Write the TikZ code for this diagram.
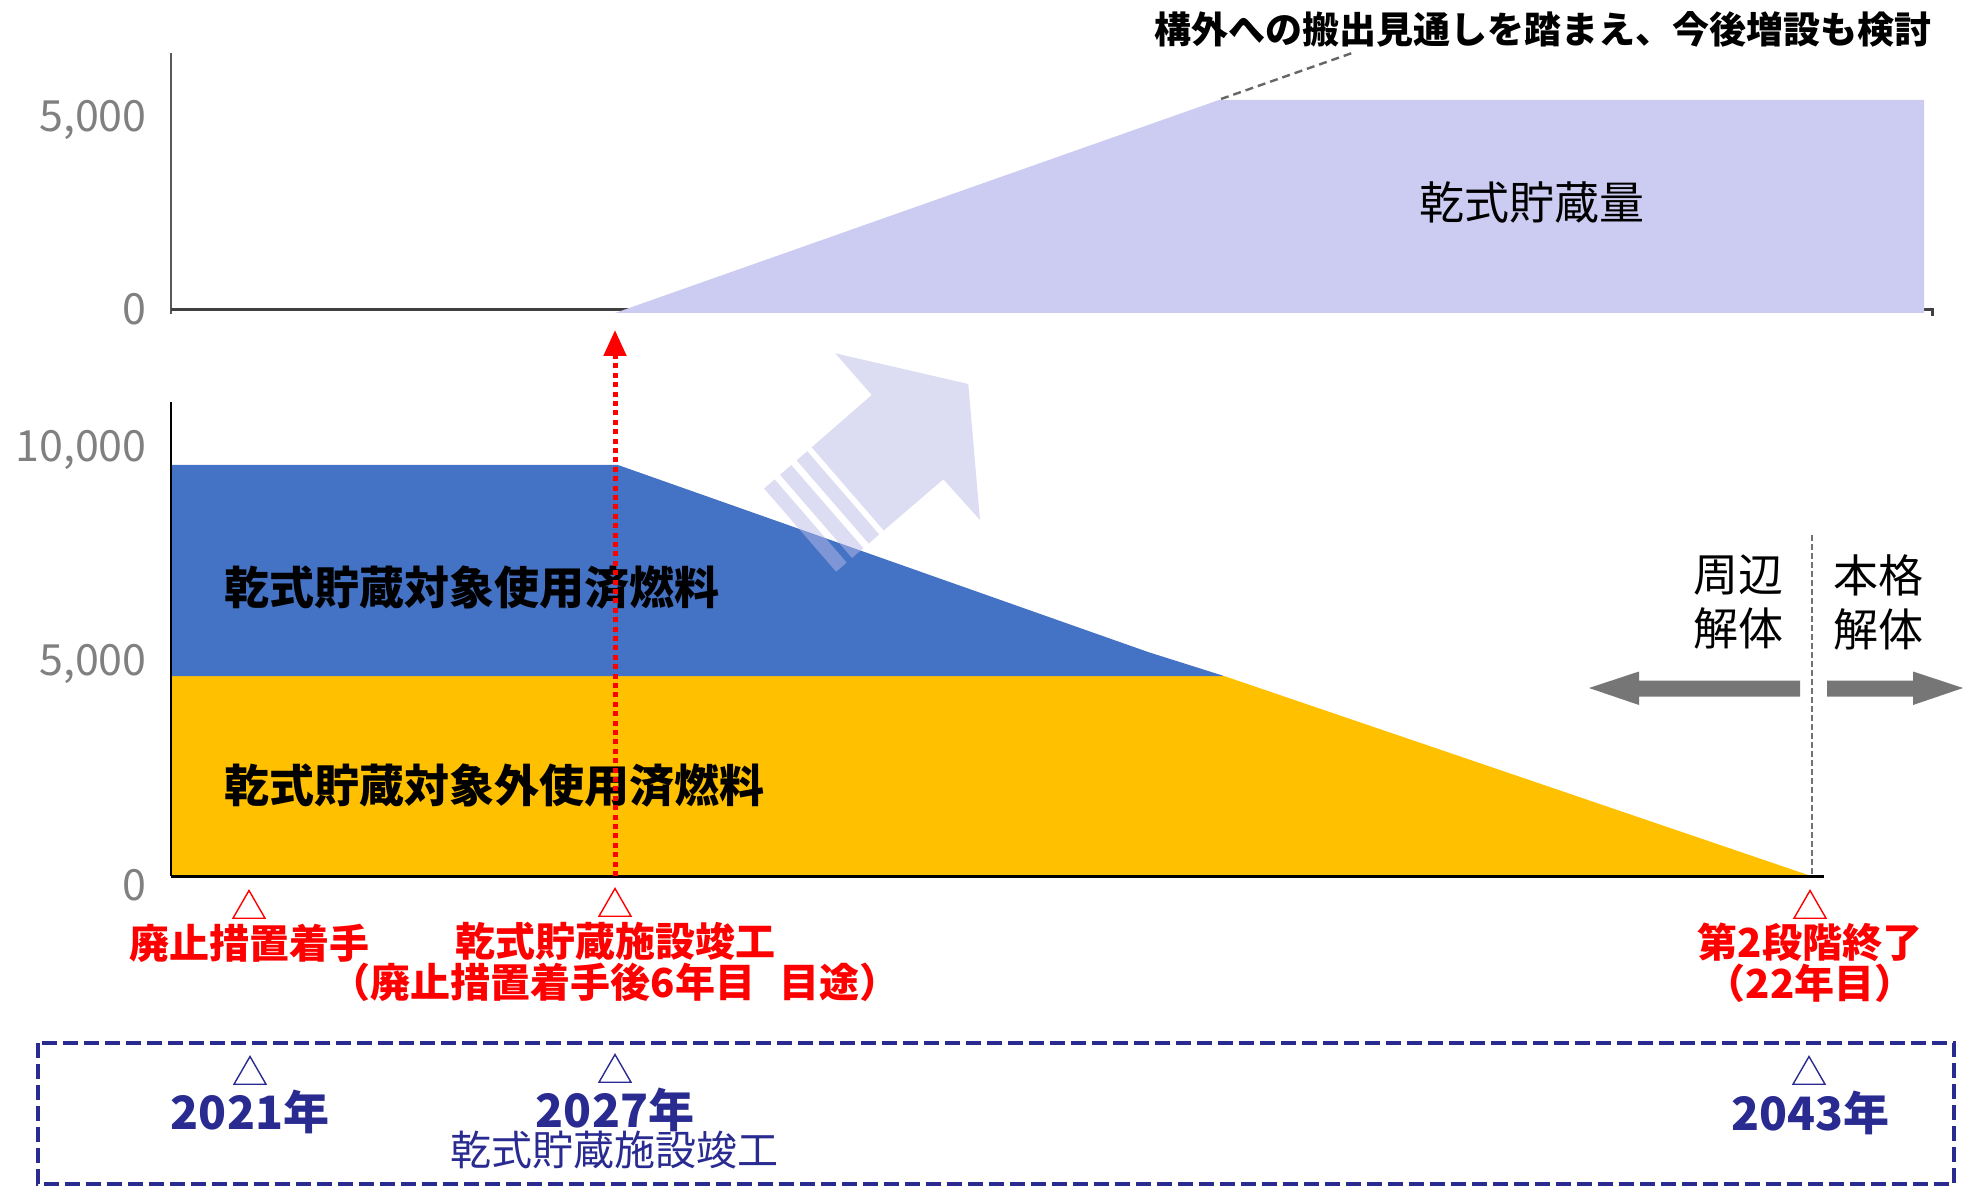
\documentclass[tikz,border=0pt]{standalone}
\usepackage{fontspec}
\setmainfont{Noto Sans CJK JP}
\usetikzlibrary{arrows.meta,shapes.geometric}
\definecolor{fuelblue}{RGB}{68,114,196}
\definecolor{fuelyellow}{RGB}{255,192,0}
\definecolor{drylav}{RGB}{204,204,242}
\definecolor{arrowlav}{RGB}{186,186,232}
\definecolor{navy}{RGB}{41,43,145}
\definecolor{axisgray}{RGB}{128,128,128}
\definecolor{arrowgray}{RGB}{118,118,118}

\begin{document}
\begin{tikzpicture}[x=0.5pt, y=-0.5pt,
  ticklbl/.style={anchor=base east, inner sep=0pt, text=axisgray, font=\fontsize{21.5}{24}\selectfont},
  fuellbl/.style={anchor=west, inner sep=0pt, font=\bfseries\fontsize{22.5}{26}\selectfont},
  redlbl/.style={inner sep=0pt, align=center, text=red, font=\bfseries\fontsize{20}{20.5}\selectfont},
  yearlbl/.style={inner sep=0pt, text=navy, font=\bfseries\fontsize{23}{26}\selectfont},
  demlbl/.style={inner sep=0pt, align=center, font=\fontsize{22.5}{27}\selectfont},
  tri/.style={regular polygon, regular polygon sides=3, minimum size=18.5pt, inner sep=0pt, line width=0.7pt}]
\useasboundingbox (0,0) rectangle (1968,1186);

% Upper chart (dry storage)
\draw[line width=1pt, black!65] (171,53) -- (171,314);
\draw[line width=1.5pt, black!75] (171,310) -- (1932,310) -- (1932,316);
\fill[drylav] (615,313) -- (1219,100) -- (1924,100) -- (1924,313) -- cycle;
\node[ticklbl] (up5k) at (147,132) {5,000};
\node[ticklbl] (up0) at (147,325) {0};
\node[demlbl] (drylbl) at (1532,202) {乾式貯蔵量};

% Note on the top
\node[anchor=east, inner sep=0pt, font=\bfseries\fontsize{18.5}{22}\selectfont] (note) at (1932,29) {構外への搬出見通しを踏まえ、今後増設も検討};
\coordinate (peak) at (1221,99);
\coordinate (noteend) at (1355,52);
\draw[black!60, line width=1.2pt, dash pattern=on 4pt off 2.5pt] (peak) -- (noteend);

% Lower chart (spent fuel)
\fill[fuelyellow] (171,876) -- (171,676) -- (1224,676) -- (1811,876) -- cycle;
\fill[fuelblue] (171,676) -- (171,465) -- (618,465) -- (1148,652) -- (1224,676) -- cycle;
\draw[line width=0.8pt, black] (171,402) -- (171,876);
\draw[line width=1.5pt, black] (171,876) -- (1824,876);
\node[ticklbl] (lo10k) at (147,462) {10,000};
\node[ticklbl] (lo5k) at (147,675) {5,000};
\node[ticklbl] (lo0) at (147,900) {0};
\node[fuellbl] (inlbl) at (224,588) {乾式貯蔵対象使用済燃料};
\node[fuellbl] (outlbl) at (224,786) {乾式貯蔵対象外使用済燃料};

% Transfer arrow (faded)
\fill[arrowlav, fill opacity=0.5] (811.7,447.3) -- (871.7,395) -- (835.3,353.3) -- (968.3,384) -- (980,520) -- (943.3,479.3) -- (883.7,530.5) -- cycle;
\fill[arrowlav, fill opacity=0.5] (807.2,451.2) -- (879.2,534.4) -- (868.7,543.6) -- (796.6,460.4) -- cycle;
\fill[arrowlav, fill opacity=0.5] (791.3,465.0) -- (863.4,548.2) -- (852.0,558.0) -- (780.0,474.8) -- cycle;
\fill[arrowlav, fill opacity=0.5] (774.7,479.4) -- (846.7,562.6) -- (836.1,571.7) -- (764.1,488.6) -- cycle;

% Completion of dry storage facility
\coordinate (dsbase) at (615,876);
\coordinate (dstop) at (615,330);
\draw[red, line width=2.5pt, dash pattern=on 2.5pt off 2.2pt, -{Triangle[length=13pt,width=11pt]}] (dsbase) -- (dstop);

% Dismantling phases
\draw[black!55, line width=1.2pt, dash pattern=on 3pt off 1.5pt] (1812,535) -- (1812,876);
\fill[arrowgray] (1589,688) -- (1639,671.5) -- (1639,680.5) -- (1800,680.5) -- (1800,696.5) -- (1639,696.5) -- (1639,705) -- cycle;
\fill[arrowgray] (1963,688) -- (1913,671.5) -- (1913,680.5) -- (1827,680.5) -- (1827,696.5) -- (1913,696.5) -- (1913,705) -- cycle;
\node[demlbl] (peri) at (1738,602) {周辺\\解体};
\node[demlbl] (main) at (1878,602) {本格\\解体};

% Milestones (red)
\node[tri, draw=red] (ev1t) at (249,909) {};
\node[tri, draw=red] (ev2t) at (615,907) {};
\node[tri, draw=red] (ev3t) at (1810,909) {};
\node[redlbl] (ev1) at (249,943) {廃止措置着手};
\node[redlbl] (ev2) at (615,962) {乾式貯蔵施設竣工\\（廃止措置着手後6年目\hspace{0.6em}目途）};
\node[redlbl] (ev3) at (1810,963) {第2段階終了\\（22年目）};

% Calendar years
\draw[navy, line width=2.4pt, dash pattern=on 7.5pt off 3pt] (38,1043) rectangle (1954,1184);
\node[tri, draw=navy] (y1t) at (250,1075) {};
\node[tri, draw=navy] (y2t) at (615,1073) {};
\node[tri, draw=navy] (y3t) at (1809,1075) {};
\node[yearlbl] (y1) at (250,1112) {2021年};
\node[yearlbl] (y2) at (615,1110) {2027年};
\node[inner sep=0pt, text=navy, font=\fontsize{20.5}{24}\selectfont] (y2sub) at (614,1150) {乾式貯蔵施設竣工};
\node[yearlbl] (y3) at (1810,1113) {2043年};
\end{tikzpicture}
\end{document}
